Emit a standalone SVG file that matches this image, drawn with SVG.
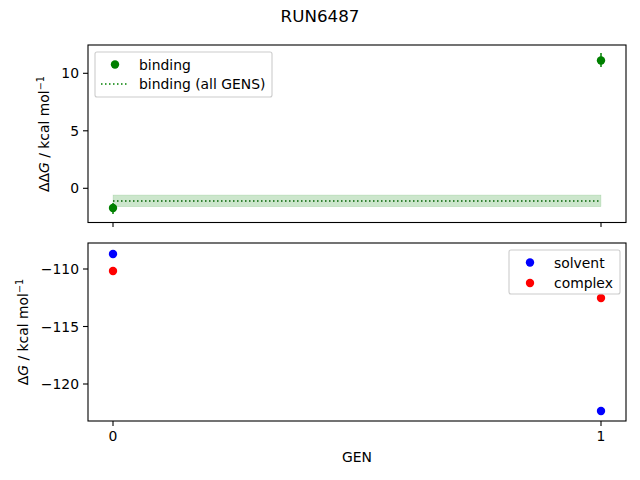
<svg xmlns="http://www.w3.org/2000/svg" width="640" height="480" viewBox="0 0 640 480">
<style>
text{font-family:"DejaVu Sans",sans-serif;font-size:13.9px;fill:#000}
.ax{fill:none;stroke:#000;stroke-width:1.1}
.tk{stroke:#000;stroke-width:1.1}
.leg{fill:#fff;fill-opacity:0.8;stroke:#ccc;stroke-width:1.1}
</style>
<rect width="640" height="480" fill="#fff"/>
<text x="320" y="22" text-anchor="middle" style="font-size:16.7px">RUN6487</text>
<g id="top">
<rect x="113" y="195" width="488" height="11.7" fill="#008000" fill-opacity="0.2" stroke="#008000" stroke-opacity="0.2" stroke-width="0.5"/>
<line x1="113" y1="201" x2="601" y2="201" stroke="#006400" stroke-width="1.5" stroke-dasharray="1.5,2.5"/>
<g fill="#008000" stroke="#008000" stroke-width="1.5">
<line x1="113" y1="203" x2="113" y2="214"/><circle cx="113" cy="208" r="4.2" stroke="none"/>
<line x1="601" y1="53" x2="601" y2="67"/><circle cx="601" cy="60.5" r="4.2" stroke="none"/>
</g>
<rect class="ax" x="88" y="45" width="538" height="177.5"/>
<g class="tk"><line x1="83" y1="73.3" x2="88" y2="73.3"/><line x1="83" y1="130.8" x2="88" y2="130.8"/><line x1="83" y1="188.3" x2="88" y2="188.3"/>
<line x1="113" y1="222.5" x2="113" y2="227"/><line x1="601" y1="222.5" x2="601" y2="227"/></g>
<text x="79" y="78" text-anchor="end">10</text>
<text x="79" y="135.5" text-anchor="end">5</text>
<text x="79" y="193" text-anchor="end">0</text>
<text transform="translate(49,134) rotate(-90)" text-anchor="middle">ΔΔ<tspan font-style="italic">G</tspan> / kcal mol<tspan dy="-5" style="font-size:9.7px">−1</tspan></text>
<rect class="leg" x="95" y="52" width="177" height="45" rx="2"/>
<circle cx="115" cy="64.5" r="4.2" fill="#008000"/>
<text x="139" y="69.5">binding</text>
<line x1="101" y1="84" x2="129" y2="84" stroke="#008000" stroke-width="1.5" stroke-dasharray="1.5,2.5"/>
<text x="139" y="89">binding (all GENS)</text>
</g>
<g id="bottom">
<circle cx="113" cy="254" r="4.2" fill="#0000ff"/>
<circle cx="113" cy="271" r="4.2" fill="#ff0000"/>
<circle cx="601" cy="298" r="4.2" fill="#ff0000"/>
<circle cx="601" cy="411" r="4.2" fill="#0000ff"/>
<rect class="ax" x="88" y="243" width="538" height="178"/>
<g class="tk"><line x1="83" y1="269" x2="88" y2="269"/><line x1="83" y1="326.5" x2="88" y2="326.5"/><line x1="83" y1="384" x2="88" y2="384"/>
<line x1="113" y1="421" x2="113" y2="426"/><line x1="601" y1="421" x2="601" y2="426"/></g>
<text x="79" y="274" text-anchor="end">−110</text>
<text x="79" y="331.5" text-anchor="end">−115</text>
<text x="79" y="389" text-anchor="end">−120</text>
<text x="113" y="441" text-anchor="middle">0</text>
<text x="601" y="441" text-anchor="middle">1</text>
<text x="357" y="462" text-anchor="middle">GEN</text>
<text transform="translate(28,332) rotate(-90)" text-anchor="middle">Δ<tspan font-style="italic">G</tspan> / kcal mol<tspan dy="-5" style="font-size:9.7px">−1</tspan></text>
<rect class="leg" x="509" y="250" width="111" height="44" rx="2"/>
<circle cx="530" cy="262.5" r="4.2" fill="#0000ff"/>
<text x="554" y="267.5">solvent</text>
<circle cx="530" cy="283" r="4.2" fill="#ff0000"/>
<text x="554" y="288">complex</text>
</g>
</svg>
